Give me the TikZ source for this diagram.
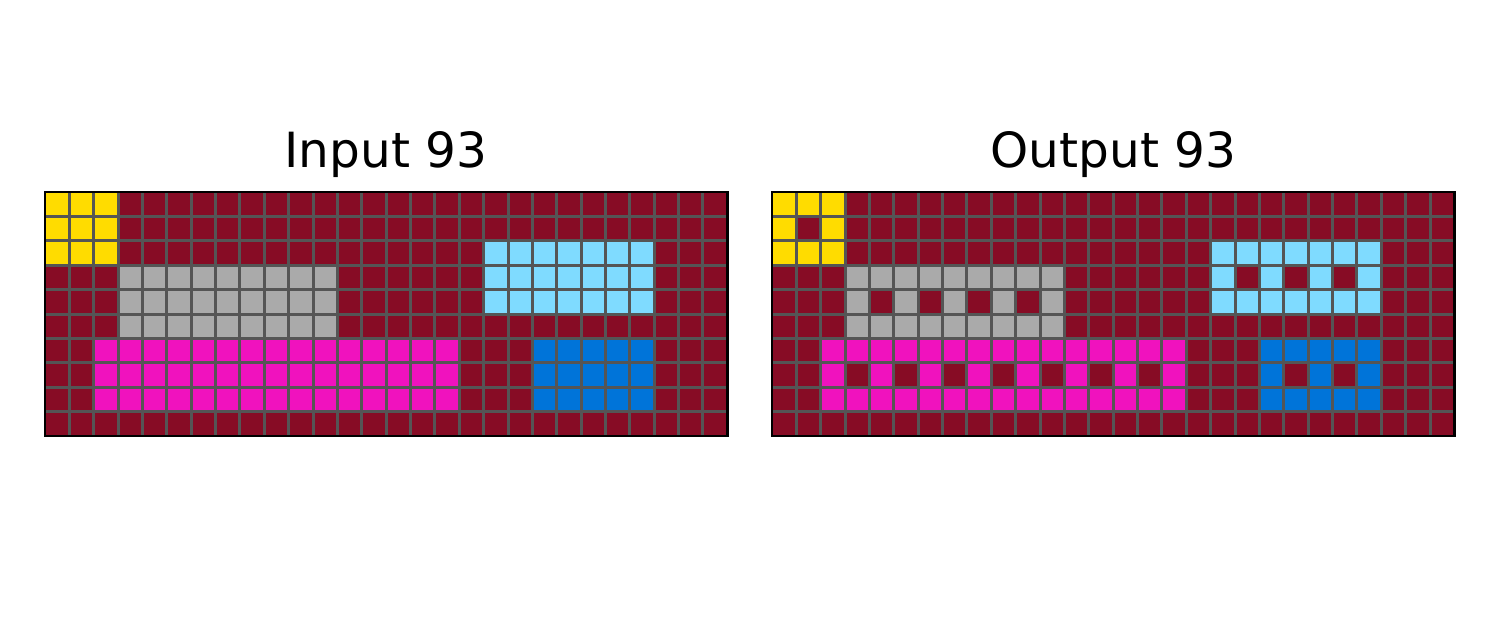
\documentclass[tikz,border=0pt]{standalone}
\usepackage{fontspec}
\setmainfont{DejaVu Sans}
\definecolor{arcbg}{HTML}{870C25}
\definecolor{arcgrid}{HTML}{555555}
\definecolor{arcyellow}{HTML}{FFDC00}
\definecolor{arcgray}{HTML}{AAAAAA}
\definecolor{arcmagenta}{HTML}{F012BE}
\definecolor{arclblue}{HTML}{7FDBFF}
\definecolor{arcblue}{HTML}{0074D9}
\tikzset{
  titletext/.style={anchor=base, font=\fontsize{48.5}{48.5}\selectfont, inner sep=0pt},
  gridline/.style={draw=arcgrid, line width=3pt},
  gridborder/.style={draw=black, line width=2.5pt},
}
\def\cw{24.37}
\def\ch{24.4}
\begin{document}
\begin{tikzpicture}[x=1pt,y=-1pt]
\useasboundingbox (0,0) rectangle (1500,629);
\fill[white] (0,0) rectangle (1500,629);
\node[titletext] (tin) at (386,167) {Input 93};
\node[titletext] (tout) at (1113.5,167) {Output 93};
\foreach \ox in {45,772}{
  \fill[arcbg] (\ox,192) rectangle ({\ox+28*\cw},{192+10*\ch});
  \foreach \col/\ca/\cb/\ra/\rb in {arcyellow/0/3/0/3, arcgray/3/12/3/6, arcmagenta/2/17/6/9, arclblue/18/25/2/5, arcblue/20/25/6/9}{
    \fill[\col] ({\ox+\ca*\cw},{192+\ra*\ch}) rectangle ({\ox+\cb*\cw},{192+\rb*\ch});
  }
}
\foreach \c/\r in {1/1, 4/4, 6/4, 8/4, 10/4, 3/7, 5/7, 7/7, 9/7, 11/7, 13/7, 15/7, 19/3, 21/3, 23/3, 21/7, 23/7}{
  \fill[arcbg] ({772+\c*\cw},{192+\r*\ch}) rectangle ({772+(\c+1)*\cw},{192+(\r+1)*\ch});
}
\foreach \ox in {45,772}{
  \foreach \i in {1,...,27}{
    \draw[gridline] ({\ox+\i*\cw},192) -- ({\ox+\i*\cw},{192+10*\ch});
  }
  \foreach \j in {1,...,9}{
    \draw[gridline] (\ox,{192+\j*\ch}) -- ({\ox+28*\cw},{192+\j*\ch});
  }
  \draw[gridborder] (\ox,192) rectangle ({\ox+28*\cw},{192+10*\ch});
}
\end{tikzpicture}
\end{document}
